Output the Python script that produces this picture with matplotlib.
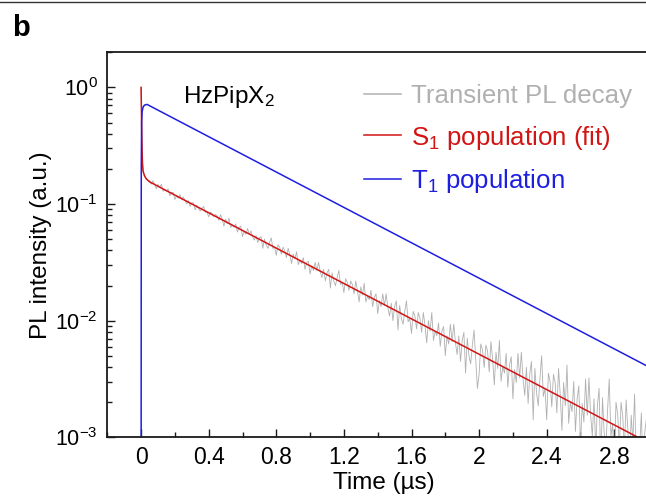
import numpy as np
import matplotlib
matplotlib.use("Agg")
import matplotlib.pyplot as plt
from matplotlib.lines import Line2D
from matplotlib.ticker import FixedLocator, LogLocator, NullFormatter, FixedFormatter

plt.rcParams['font.family'] = ['Liberation Sans', 'DejaVu Sans']
plt.rcParams['mathtext.fontset'] = 'custom'
plt.rcParams['mathtext.rm'] = 'Liberation Sans'

# Transient PL decay (log10 of intensity)
pl_t_early = [0.0, 0.005, 0.01, 0.02, 0.03, 0.04]
pl_log_early = [0.0, -0.50, -0.70, -0.76, -0.78, -0.80]
pl_t_start = 0.05
pl_t_step = 0.01
pl_log = [
    -0.80, -0.83, -0.80, -0.83, -0.87, -0.83, -0.86, -0.83, -0.89, -0.88,
    -0.89, -0.87, -0.93, -0.90, -0.90, -0.96, -0.93, -0.95, -0.92, -0.96,
    -0.94, -0.97, -1.00, -0.97, -1.02, -0.99, -0.99, -1.05, -1.01, -1.04,
    -1.06, -1.04, -1.02, -1.07, -1.07, -1.11, -1.07, -1.08, -1.11, -1.09,
    -1.10, -1.14, -1.09, -1.13, -1.19, -1.13, -1.17, -1.12, -1.20, -1.18,
    -1.20, -1.17, -1.24, -1.20, -1.19, -1.28, -1.23, -1.26, -1.21, -1.26,
    -1.23, -1.28, -1.31, -1.27, -1.33, -1.29, -1.28, -1.38, -1.30, -1.35,
    -1.38, -1.33, -1.29, -1.38, -1.37, -1.44, -1.35, -1.37, -1.43, -1.37,
    -1.40, -1.46, -1.38, -1.43, -1.51, -1.43, -1.47, -1.41, -1.52, -1.48,
    -1.51, -1.46, -1.56, -1.50, -1.49, -1.60, -1.53, -1.57, -1.50, -1.57,
    -1.50, -1.58, -1.63, -1.56, -1.66, -1.59, -1.56, -1.72, -1.59, -1.66,
    -1.70, -1.63, -1.57, -1.69, -1.67, -1.76, -1.64, -1.67, -1.74, -1.66,
    -1.69, -1.77, -1.66, -1.74, -1.84, -1.71, -1.78, -1.68, -1.84, -1.79,
    -1.82, -1.74, -1.88, -1.80, -1.77, -1.94, -1.83, -1.88, -1.77, -1.87,
    -1.77, -1.89, -1.96, -1.85, -2.00, -1.88, -1.83, -2.08, -1.87, -1.98,
    -2.03, -1.92, -1.83, -2.01, -1.98, -2.11, -1.92, -1.96, -2.07, -1.93,
    -1.98, -2.10, -1.93, -2.04, -2.19, -2.00, -2.09, -1.93, -2.17, -2.09,
    -2.13, -2.02, -2.22, -2.09, -2.05, -2.30, -2.13, -2.20, -2.03, -2.18,
    -2.03, -2.19, -2.29, -2.13, -2.35, -2.17, -2.10, -2.45, -2.15, -2.30,
    -2.37, -2.21, -2.08, -2.33, -2.58, -2.46, -2.20, -2.25, -2.40, -2.21,
    -2.26, -2.44, -2.18, -2.33, -2.55, -2.27, -2.41, -2.17, -2.52, -2.39,
    -2.45, -2.28, -2.57, -2.38, -2.31, -2.67, -2.42, -2.53, -2.28, -2.49,
    -2.27, -2.50, -2.64, -2.40, -2.71, -2.45, -2.35, -2.85, -2.41, -2.62,
    -2.73, -2.50, -2.30, -2.65, -2.58, -2.85, -2.45, -2.52, -2.74, -2.46,
    -2.53, -2.79, -2.41, -2.63, -2.94, -2.53, -2.73, -2.38, -2.88, -2.70,
    -2.78, -2.52, -2.95, -2.67, -2.56, -3.08, -2.71, -2.87, -2.50, -2.81,
    -2.49, -2.81, -2.99, -2.67, -3.10, -2.73, -2.58, -3.27, -2.66, -2.96,
    -3.10, -2.77, -2.50, -2.99, -2.89, -3.24, -2.70, -2.80, -3.09, -2.70,
    -2.82, -3.11, -2.68, -2.93, -3.29, -2.81, -3.04, -2.63, -3.21, -3.00,
    -3.09, -2.79, -3.29, -2.96, -2.84,
]

# S1 population (fit)
s1_t = [0.0, 0.002, 0.004, 0.006, 0.008, 0.012, 0.02, 0.03, 0.05, 3.0]
s1_val = [1.0, 0.62, 0.40, 0.28, 0.225, 0.19, 0.175, 0.165, 0.155, 0.0009]

# T1 population
t1_t = [0.0, 0.001, 0.003, 0.006, 0.012, 0.02, 0.035, 3.0]
t1_val = [1e-4, 0.2, 0.5, 0.62, 0.68, 0.705, 0.715, 0.00404]

x_ticks = [0, 0.4, 0.8, 1.2, 1.6, 2.0, 2.4, 2.8]
x_labels = ['0', '0.4', '0.8', '1.2', '1.6', '2', '2.4', '2.8']

gray = '#b0b0b0'
red = '#d21414'
blue = '#1e1ee0'

pl_t = pl_t_early + [pl_t_start + pl_t_step * i for i in range(len(pl_log))]
pl_val = 10 ** np.array(pl_log_early + pl_log)

fig = plt.figure(figsize=(6.46, 4.99), dpi=100)
ax = fig.add_axes([107.3 / 646, 1 - 437.3 / 499, 574.6 / 646, 385 / 499])

ax.plot(pl_t, pl_val, color=gray, lw=0.6, label='Transient PL decay')
ax.plot(s1_t, s1_val, color=red, lw=1.1, label=r'S$\mathregular{_1}$ population (fit)')
ax.plot(t1_t, t1_val, color=blue, lw=1.1, label=r'T$\mathregular{_1}$ population')

ax.set_yscale('log')
ax.set_xlim(-0.2, 3.2)
ax.set_ylim(1e-3, 2.0)

ax.xaxis.set_major_locator(FixedLocator(x_ticks))
ax.xaxis.set_major_formatter(FixedFormatter(x_labels))
ax.xaxis.set_minor_locator(FixedLocator(np.arange(-0.2, 3.21, 0.2)))
ax.yaxis.set_major_locator(LogLocator(base=10, numticks=10))
ax.yaxis.set_minor_locator(LogLocator(base=10, subs=np.arange(2, 10), numticks=20))
ax.yaxis.set_minor_formatter(NullFormatter())

ax.tick_params(which='both', direction='in', width=1.0, colors='#1a1a1a',
               labelsize=16.5, pad=6, labelcolor='black')
ax.tick_params(axis='y', labelsize=15.5, pad=7)
ax.tick_params(which='major', length=6)
ax.tick_params(which='minor', length=3.5)
for s in ax.spines.values():
    s.set_linewidth(1.3)
    s.set_color('#1a1a1a')

ax.set_ylabel('PL intensity (a.u.)', fontsize=17.5, labelpad=2)
ax.set_xlabel('Time (µs)', fontsize=17.5)
ax.xaxis.set_label_coords(276.7 / 574.6, -0.09)

leg = ax.legend(loc='upper left', bbox_to_anchor=(364 / 646, 1 - 84 / 499),
                bbox_transform=fig.transFigure, frameon=False, borderpad=0,
                borderaxespad=0, handlelength=1.45, handletextpad=0.36,
                labelspacing=0.6, labelcolor='linecolor', fontsize=18.6)
for h in leg.get_lines():
    h.set_linewidth(1.1)

fig.text(182.7 / 646, 1 - 103.3 / 499, r'HzPipX$\mathregular{_2}$', fontsize=17.5, va='baseline')
fig.text(12 / 646, 1 - 35.5 / 499, 'b', fontsize=21, fontweight='bold', va='baseline')
fig.add_artist(Line2D([0, 1], [1 - 1.5 / 499] * 2, transform=fig.transFigure, color='#333333', lw=1.0))

fig.savefig('out.png', dpi=100)
